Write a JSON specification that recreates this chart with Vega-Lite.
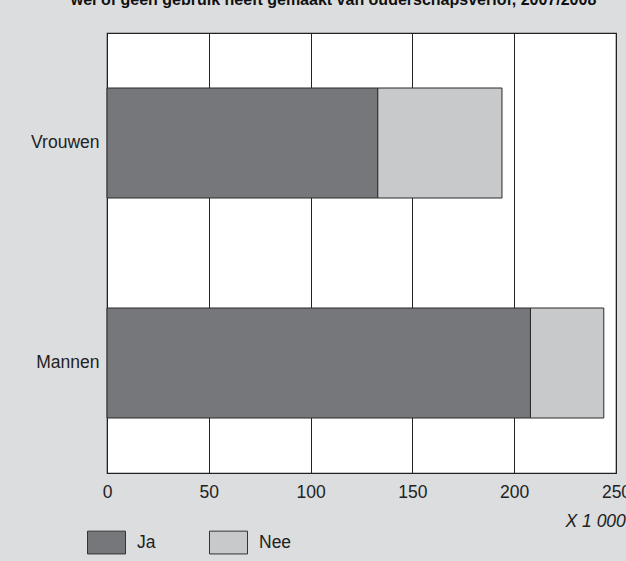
{
  "$schema": "https://vega.github.io/schema/vega-lite/v6.json",
  "width": 509,
  "height": 440,
  "autosize": {"type": "none"},
  "padding": {"left": 107, "top": 33, "right": 10, "bottom": 88},
  "background": "#dcdddf",
  "title": {
    "text": "wel of geen gebruik heeft gemaakt van ouderschapsverlof, 2007/2008",
    "font": "Liberation Sans",
    "fontSize": 16,
    "fontWeight": "bold",
    "color": "#111",
    "anchor": "middle",
    "baseline": "bottom",
    "offset": 9,
    "dx": -28
  },
  "config": {
    "font": "Liberation Sans",
    "view": {"fill": "white", "stroke": "#222", "strokeWidth": 1.2}
  },
  "data": {
    "values": [
      {"geslacht": "Vrouwen", "gebruik": "Ja", "aantal": 133},
      {"geslacht": "Vrouwen", "gebruik": "Nee", "aantal": 61},
      {"geslacht": "Mannen", "gebruik": "Ja", "aantal": 208},
      {"geslacht": "Mannen", "gebruik": "Nee", "aantal": 36}
    ]
  },
  "mark": {"type": "bar", "stroke": "#2a2a2a", "strokeWidth": 1},
  "encoding": {
    "y": {
      "field": "geslacht",
      "type": "nominal",
      "sort": ["Vrouwen", "Mannen"],
      "scale": {"paddingInner": 0.5, "paddingOuter": 0.25},
      "axis": {
        "title": null,
        "ticks": false,
        "domain": false,
        "labelFontSize": 17.5,
        "labelColor": "#222",
        "labelPadding": 8
      }
    },
    "x": {
      "field": "aantal",
      "type": "quantitative",
      "stack": "zero",
      "scale": {"domain": [0, 250], "nice": false},
      "axis": {
        "values": [0, 50, 100, 150, 200, 250],
        "grid": true,
        "gridColor": "#222",
        "gridOpacity": 1,
        "gridWidth": 1,
        "ticks": false,
        "domain": false,
        "labelFontSize": 17.5,
        "labelColor": "#222",
        "labelPadding": 10,
        "labelFlush": false,
        "labelBound": false,
        "labelOverlap": false,
        "title": "X 1 000",
        "titleFontStyle": "italic",
        "titleFontWeight": "normal",
        "titleFontSize": 17.5,
        "titleColor": "#222",
        "titleAlign": "left",
        "titleBaseline": "middle",
        "titleAnchor": "start",
        "titleX": 458,
        "titleY": 48
      }
    },
    "color": {
      "field": "gebruik",
      "type": "nominal",
      "scale": {"domain": ["Ja", "Nee"], "range": ["#76777b", "#c8c9cb"]},
      "legend": {
        "title": null,
        "orient": "none",
        "direction": "horizontal",
        "legendX": -20,
        "legendY": 490,
        "padding": 0,
        "symbolType": "M-1,-0.6H1V0.6H-1Z",
        "symbolSize": 1444,
        "symbolStrokeColor": "#333",
        "symbolStrokeWidth": 1,
        "symbolOpacity": 1,
        "labelFontSize": 17.5,
        "labelColor": "#222",
        "labelOffset": 11,
        "gridAlign": "all",
        "columnPadding": 37
      }
    }
  }
}
